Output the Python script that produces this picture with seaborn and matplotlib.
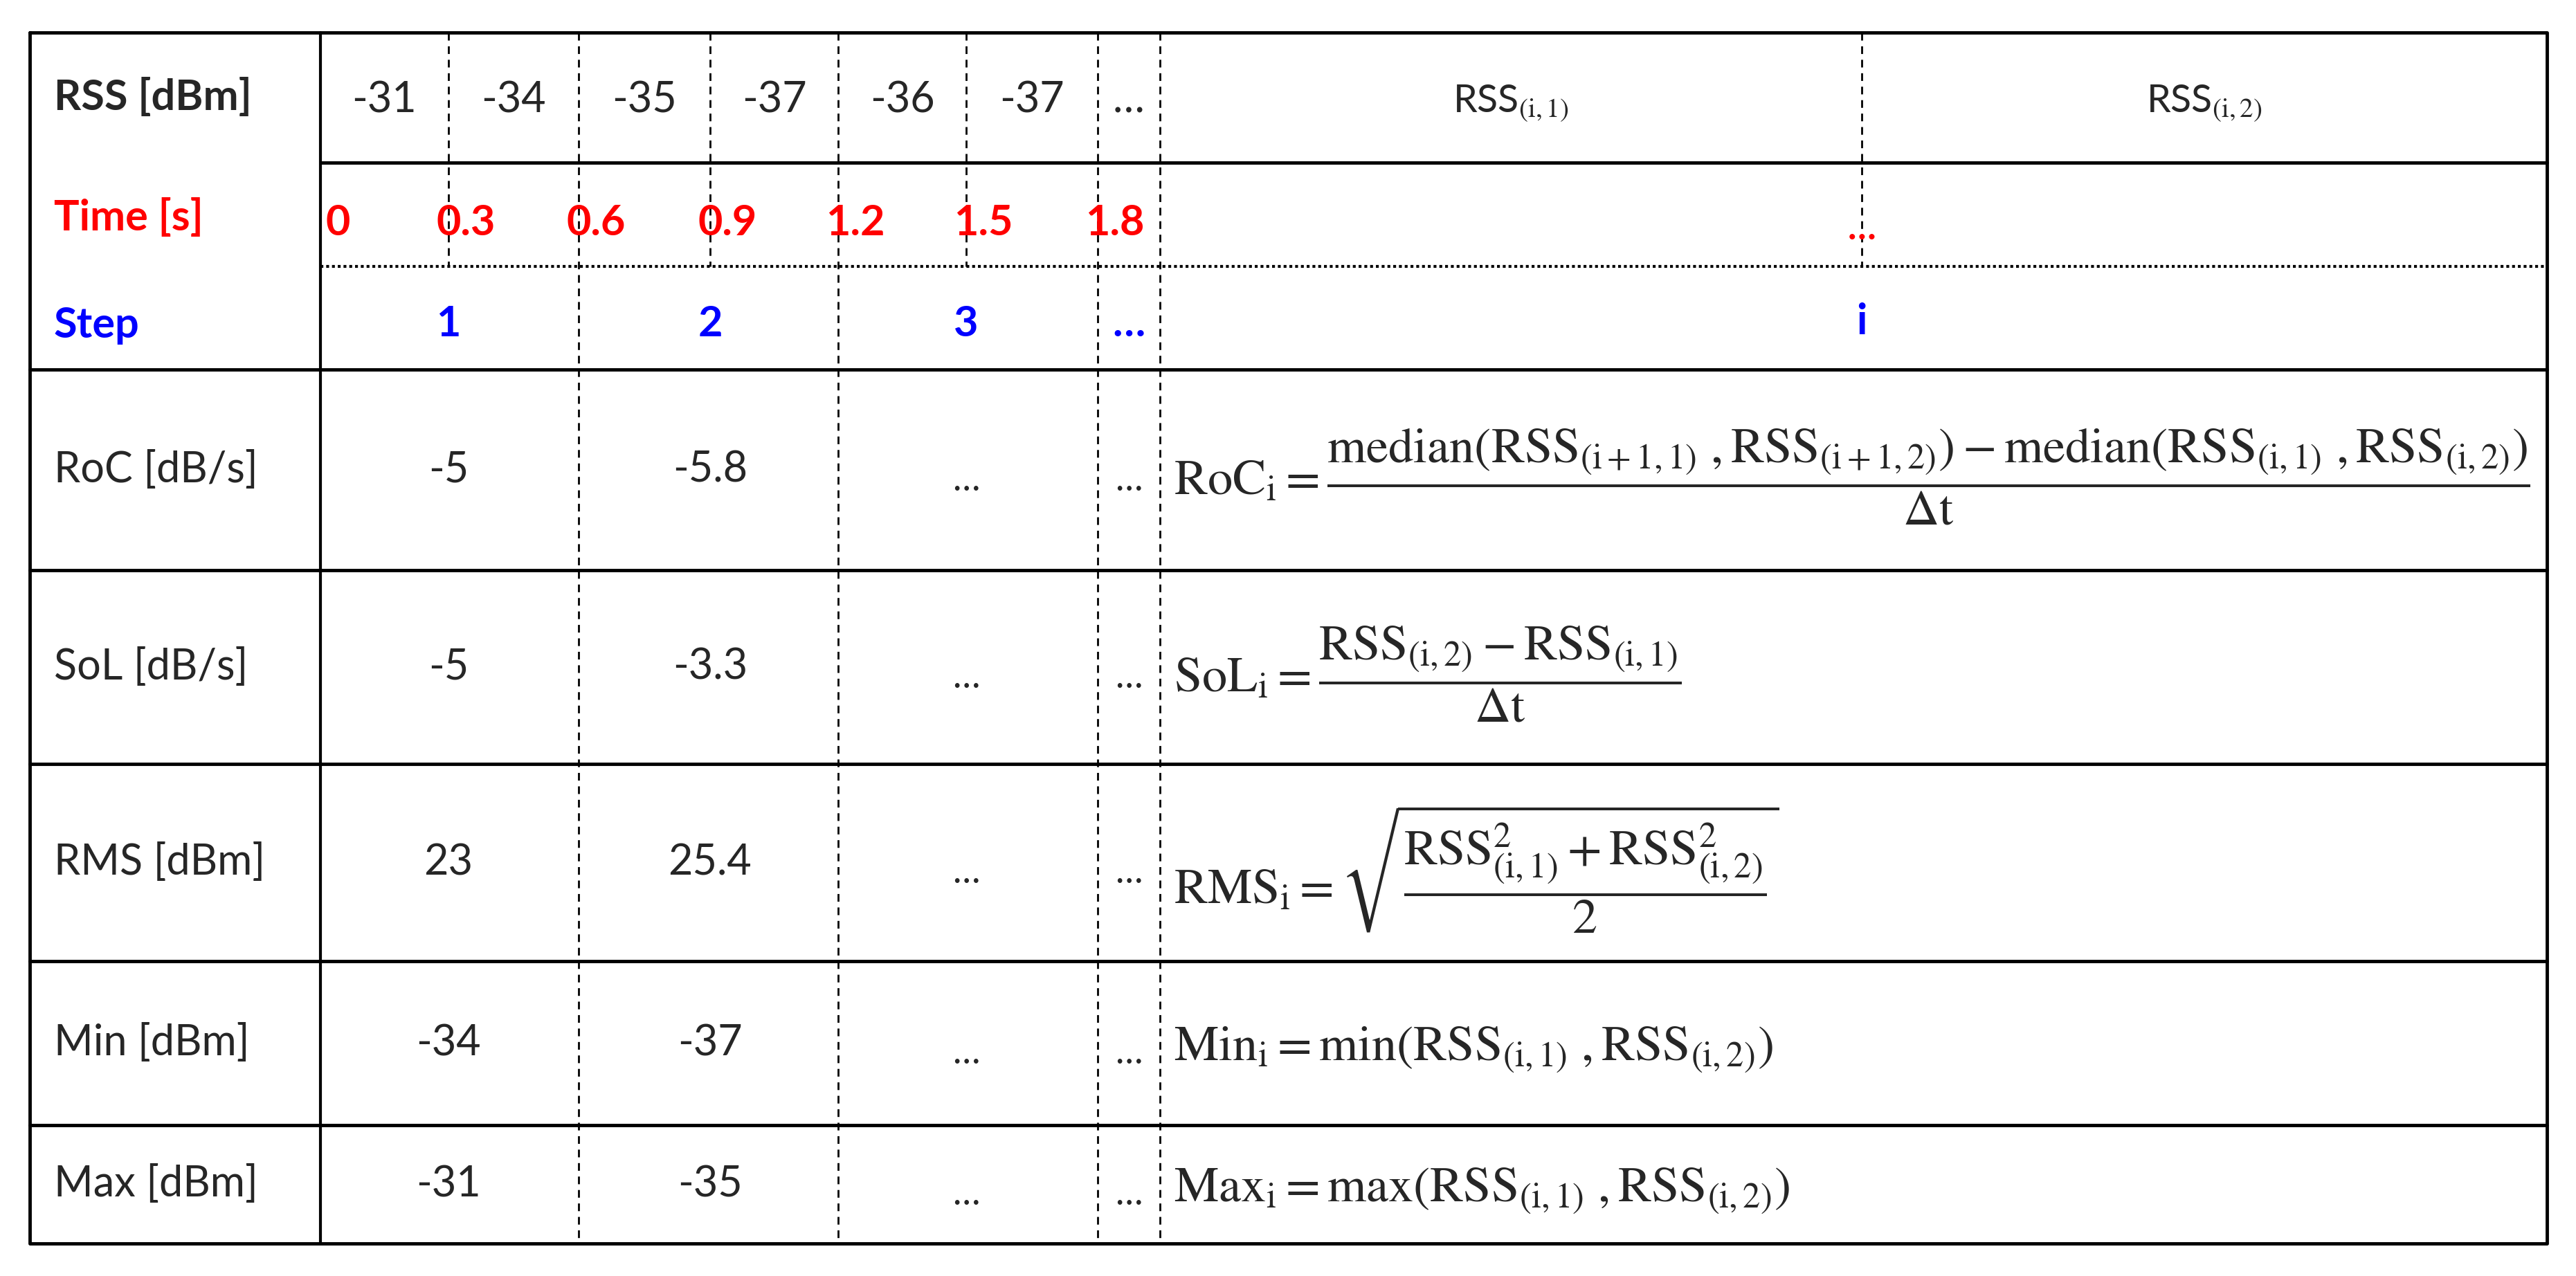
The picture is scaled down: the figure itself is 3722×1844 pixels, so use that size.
import matplotlib
matplotlib.use("Agg")
import matplotlib.pyplot as plt
import seaborn as sns

sns.set_theme(style="white")
plt.rcParams["font.family"] = ["Lato", "DejaVu Sans"]
plt.rcParams["mathtext.fontset"] = "stix"

# table data
rss_values = ["-31", "-34", "-35", "-37", "-36", "-37", "…"]
time_values = ["0", "0.3", "0.6", "0.9", "1.2", "1.5", "1.8"]
steps = ["1", "2", "3", "…"]
row_labels = ["RoC [dB/s]", "SoL [dB/s]", "RMS [dBm]", "Min [dBm]", "Max [dBm]"]
step1_vals = ["-5", "-5", "23", "-34", "-31"]
step2_vals = ["-5.8", "-3.3", "25.4", "-37", "-35"]
formulas = [
    r"$\mathrm{RoC_i} = \dfrac{\mathrm{median}\left(\mathrm{RSS_{(i+1,1)}}\ ,\mathrm{RSS_{(i+1,2)}}\right) - \mathrm{median}\left(\mathrm{RSS_{(i,1)}}\ ,\mathrm{RSS_{(i,2)}}\right)}{\Delta\mathrm{t}}$",
    r"$\mathrm{SoL_i} = \dfrac{\mathrm{RSS_{(i,2)}} - \mathrm{RSS_{(i,1)}}}{\Delta\mathrm{t}}$",
    r"$\mathrm{RMS_i} = \sqrt{\dfrac{\mathrm{RSS^2_{(i,1)}} + \mathrm{RSS^2_{(i,2)}}}{2}}$",
    r"$\mathrm{Min_i} = \mathrm{min}\left(\mathrm{RSS_{(i,1)}}\ ,\mathrm{RSS_{(i,2)}}\right)$",
    r"$\mathrm{Max_i} = \mathrm{max}\left(\mathrm{RSS_{(i,1)}}\ ,\mathrm{RSS_{(i,2)}}\right)$",
]

# layout in pixels
W, H = 3723, 1844
xs = [43, 463, 648, 836, 1026, 1211, 1396, 1586, 1676, 2690, 3680]
ys = [47, 235, 385, 534, 824, 1104, 1389, 1626, 1797]

fig = plt.figure(figsize=(W / 100, H / 100), dpi=100)
ax = fig.add_axes([0, 0, 1, 1])
ax.set_xlim(0, W)
ax.set_ylim(H, 0)
ax.axis("off")

solid = dict(color="black", lw=3.5)
dash = dict(color="black", lw=2, ls=(0, (4, 3)))

# outer frame and solid lines
ax.plot([xs[0], xs[-1], xs[-1], xs[0], xs[0]], [ys[0], ys[0], ys[-1], ys[-1], ys[0]], **solid)
ax.plot([xs[1], xs[-1]], [ys[1], ys[1]], **solid)
for y in [ys[3]] + ys[4:-1]:
    ax.plot([xs[0], xs[-1]], [y, y], **solid)
ax.plot([xs[1], xs[-1]], [ys[2], ys[2]], color="black", lw=3, ls=(0, (1, 1)))
ax.plot([xs[1], xs[1]], [ys[0], ys[-1]], color="black", lw=3)

# dotted verticals
for i in [2, 4, 6]:
    ax.plot([xs[i], xs[i]], [ys[0], ys[2]], **dash)
for i in [3, 5, 7, 8]:
    ax.plot([xs[i], xs[i]], [ys[0], ys[-1]], **dash)
ax.plot([xs[9], xs[9]], [ys[0], ys[2]], **dash)

fs = 44
# header labels
ax.text(xs[0] + 35, (ys[0] + ys[1]) / 2, "RSS [dBm]", fontsize=fs, weight="bold", va="center")
ax.text(xs[0] + 35, 315, "Time [s]", fontsize=fs, weight="bold", color="red", va="center")
ax.text(xs[0] + 35, (ys[2] + ys[3]) / 2 + 10, "Step", fontsize=fs, weight="bold", color="blue", va="center")

for k, v in enumerate(rss_values):
    ax.text((xs[k + 1] + xs[k + 2]) / 2, 145, v, fontsize=fs, ha="center", va="center")
ax.text((xs[8] + xs[9]) / 2, 150, r"RSS$_{\mathrm{(i,1)}}$", fontsize=fs - 4, ha="center", va="center")
ax.text((xs[9] + xs[10]) / 2, 150, r"RSS$_{\mathrm{(i,2)}}$", fontsize=fs - 4, ha="center", va="center")

for k, t in enumerate(time_values):
    ax.text(xs[k + 1] + 25, 322, t, fontsize=fs, weight="bold", color="red", ha="center", va="center")
ax.text(xs[9], 330, "…", fontsize=fs - 6, weight="bold", color="red", ha="center", va="center")

step_x = [xs[2], xs[4], xs[6], (xs[7] + xs[8]) / 2]
for sx, s in zip(step_x, steps):
    ax.text(sx, 468, s, fontsize=fs, weight="bold", color="blue", ha="center", va="center")
ax.text(xs[9], 465, "i", fontsize=fs, weight="bold", color="blue", ha="center", va="center")

# body rows
for r, lab in enumerate(row_labels):
    yc = (ys[r + 3] + ys[r + 4]) / 2
    ax.text(xs[0] + 35, yc, lab, fontsize=fs, va="center")
    ax.text(step_x[0], yc, step1_vals[r], fontsize=fs, ha="center", va="center")
    ax.text(step_x[1], yc, step2_vals[r], fontsize=fs, ha="center", va="center")
    ax.text(step_x[2], yc + 15, "…", fontsize=fs - 6, ha="center", va="center")
    ax.text(step_x[3], yc + 15, "…", fontsize=fs - 6, ha="center", va="center")
    ax.text(xs[8] + 20, yc + 10, formulas[r], fontsize=52, ha="left", va="center")

fig.savefig("out.png", dpi=100, facecolor="white")
